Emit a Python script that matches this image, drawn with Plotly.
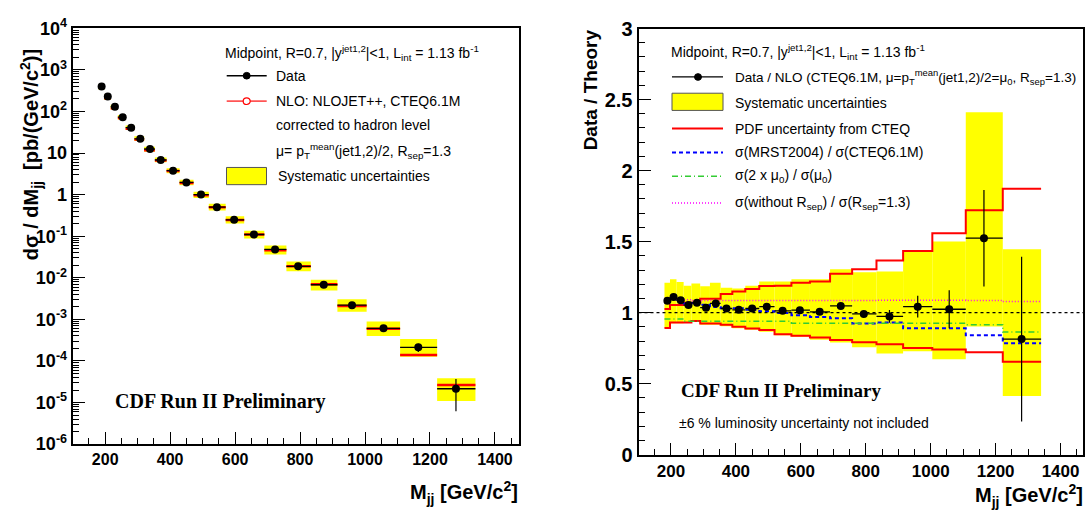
import plotly.graph_objects as go

# ---------------- data ----------------
edges = [180, 197, 217, 239, 263, 290, 320, 353, 389, 429, 472, 519, 571, 628,
         690, 758, 833, 915, 1005, 1108, 1222, 1340]
mjj = [189, 208, 230, 254, 280, 308, 338, 371, 409, 450, 495, 544, 597, 658,
       723, 794, 873, 960, 1057, 1164, 1280]
xsec = [400, 229, 130, 72.8, 40.7, 22.0, 12.5, 6.8, 3.76, 1.96, 1.00, 0.50,
        0.248, 0.110, 0.048, 0.0189, 0.0068, 0.0022, 6.1e-4, 2.13e-4, 2.15e-5]
ratio = [1.083, 1.110, 1.087, 1.053, 1.069, 1.035, 1.065, 1.029, 1.020, 1.029,
         1.042, 1.013, 1.017, 1.006, 1.047, 0.991, 0.973, 1.042, 1.024, 1.524, 0.814]
stat = [0.006, 0.006, 0.006, 0.006, 0.006, 0.007, 0.007, 0.008, 0.009, 0.010,
        0.011, 0.012, 0.013, 0.015, 0.018, 0.022, 0.045, 0.076, 0.134, 0.340, 0.580]
sys_hi = [1.21, 1.235, 1.215, 1.19, 1.205, 1.185, 1.21, 1.175, 1.17, 1.19, 1.22,
          1.22, 1.235, 1.235, 1.305, 1.285, 1.29, 1.44, 1.50, 2.41, 1.446]
sys_lo = [0.895, 0.925, 0.925, 0.93, 0.935, 0.915, 0.915, 0.905, 0.89, 0.88, 0.865,
          0.84, 0.83, 0.81, 0.79, 0.757, 0.713, 0.728, 0.672, 0.903, 0.414]
pdf_hi = [1.026, 1.053, 1.053, 1.069, 1.069, 1.098, 1.098, 1.132, 1.148, 1.166,
          1.188, 1.19, 1.21, 1.22, 1.273, 1.306, 1.367, 1.434, 1.558, 1.721, 1.872]
pdf_lo = [0.892, 0.930, 0.930, 0.930, 0.941, 0.923, 0.923, 0.914, 0.900, 0.889,
          0.878, 0.847, 0.838, 0.825, 0.807, 0.791, 0.778, 0.751, 0.740, 0.722, 0.654]
mrst = [1.07, 1.10, 1.09, 1.065, 1.07, 1.055, 1.04, 1.03, 1.03, 1.02, 1.01, 0.998,
        0.982, 0.969, 0.96, 0.923, 0.93, 0.89, 0.89, 0.84, 0.785]
scale2 = [0.955, 0.955, 0.955, 0.94, 0.94, 0.94, 0.94, 0.94, 0.94, 0.94, 0.94,
          0.94, 0.925, 0.925, 0.925, 0.925, 0.925, 0.925, 0.925, 0.915, 0.863]
norsep = [1.10, 1.10, 1.095, 1.09, 1.085, 1.085, 1.085, 1.085, 1.085, 1.085, 1.085,
          1.085, 1.085, 1.085, 1.085, 1.085, 1.087, 1.087, 1.087, 1.085, 1.078]
ytick_vals = [1e-6, 1e-5, 1e-4, 1e-3, 1e-2, 1e-1, 1, 10, 1e2, 1e3, 1e4]
ytick_text = ["10<sup>-6</sup>", "10<sup>-5</sup>", "10<sup>-4</sup>", "10<sup>-3</sup>",
              "10<sup>-2</sup>", "10<sup>-1</sup>", "1", "10", "10<sup>2</sup>",
              "10<sup>3</sup>", "10<sup>4</sup>"]

W, H = 1088, 517
lo_e = edges[:-1]
hi_e = edges[1:]
ex_minus = [m - a for m, a in zip(mjj, lo_e)]
ex_plus = [b - m for m, b in zip(mjj, hi_e)]
nlo = [x / r for x, r in zip(xsec, ratio)]
xsec_err = [x * s / r for x, s, r in zip(xsec, stat, ratio)]
box_hi = [x * h / r for x, h, r in zip(xsec, sys_hi, ratio)]
box_lo = [x * l / r for x, l, r in zip(xsec, sys_lo, ratio)]

fig = go.Figure()

# ---------------- left panel ----------------
bx, by = [], []
for a, b, l, h in zip(lo_e, hi_e, box_lo, box_hi):
    bx += [a, b, b, a, a, None]
    by += [l, l, h, h, l, None]
fig.add_trace(go.Scatter(x=bx, y=by, fill="toself", fillcolor="#FFFF00",
                         line=dict(width=0, color="#FFFF00"), mode="lines",
                         hoverinfo="skip", xaxis="x", yaxis="y"))
fig.add_trace(go.Scatter(x=mjj, y=nlo, mode="markers",
                         marker=dict(size=1, color="rgba(0,0,0,0)"),
                         error_x=dict(type="data", array=ex_plus, arrayminus=ex_minus,
                                      color="#FF0000", thickness=2.5, width=0),
                         xaxis="x", yaxis="y"))
fig.add_trace(go.Scatter(x=mjj, y=xsec, mode="markers",
                         marker=dict(size=8, color="black"),
                         error_x=dict(type="data", array=ex_plus, arrayminus=ex_minus,
                                      color="black", thickness=1.3, width=0),
                         error_y=dict(type="data", array=xsec_err, color="black",
                                      thickness=1.2, width=0),
                         xaxis="x", yaxis="y"))
fig.add_trace(go.Scatter(x=mjj, y=nlo, mode="markers",
                         marker=dict(size=9, color="rgba(0,0,0,0)", symbol="circle-open",
                                     line=dict(color="#FF0000", width=1.4)),
                         xaxis="x", yaxis="y"))

# ---------------- right panel ----------------
widths = [b - a for a, b in zip(lo_e, hi_e)]
centers = [(a + b) / 2 for a, b in zip(lo_e, hi_e)]
fig.add_trace(go.Bar(x=centers, y=[h - l for h, l in zip(sys_hi, sys_lo)], base=sys_lo,
                     width=widths, marker=dict(color="#FFFF00", line=dict(width=0)),
                     xaxis="x2", yaxis="y2", hoverinfo="skip"))


def step(vals, color, width, dash):
    fig.add_trace(go.Scatter(x=edges, y=vals + [vals[-1]], mode="lines",
                             line=dict(shape="hv", color=color, width=width, dash=dash),
                             xaxis="x2", yaxis="y2"))


step(pdf_hi, "#FF0000", 2, "solid")
step(pdf_lo, "#FF0000", 2, "solid")
step(mrst, "#0000FF", 2, "4px,3px")
step(scale2, "#33CC33", 1.5, "6px,3px,1px,3px")
step(norsep, "#FF00FF", 1.5, "1px,2px")

fig.add_trace(go.Scatter(x=mjj, y=ratio, mode="markers",
                         marker=dict(size=8, color="black"),
                         error_x=dict(type="data", array=ex_plus, arrayminus=ex_minus,
                                      color="black", thickness=1.3, width=0),
                         error_y=dict(type="data", array=stat, color="black",
                                      thickness=1.2, width=0),
                         xaxis="x2", yaxis="y2"))

# ---------------- layout ----------------
def px(x):
    return x / W


def py(y):
    return 1 - y / H


tick_common = dict(showgrid=False, zeroline=False, showline=True, mirror=True,
                   linecolor="black", linewidth=2, ticks="inside", ticklen=12,
                   tickwidth=1.3, tickcolor="black")

fig.update_layout(
    width=W, height=H, margin=dict(l=0, r=0, t=0, b=0),
    paper_bgcolor="white", plot_bgcolor="white", showlegend=False,
    barmode="overlay",
    xaxis=dict(domain=[px(72.7), px(519.3)], range=[100, 1475], anchor="y",
               dtick=200, tick0=0,
               minor=dict(dtick=50, ticks="inside", ticklen=6, tickcolor="black", tickwidth=1),
               tickfont=dict(family="Liberation Sans", size=16, color="black", weight="bold"),
               **tick_common),
    yaxis=dict(domain=[py(452.3), py(17)], type="log", range=[-6, 4], anchor="x",
               tickvals=ytick_vals, ticktext=ytick_text,
               minor=dict(dtick="D1", ticks="inside", ticklen=6, tickcolor="black", tickwidth=1),
               tickfont=dict(family="Liberation Sans", size=18, color="black", weight="bold"),
               **tick_common),
    xaxis2=dict(domain=[px(638.5), px(1083.3)], range=[100, 1470], anchor="y2",
                dtick=200, tick0=0,
                minor=dict(dtick=50, ticks="inside", ticklen=6, tickcolor="black", tickwidth=1),
                tickfont=dict(family="Liberation Sans", size=17, color="black", weight="bold"),
                **tick_common),
    yaxis2=dict(domain=[py(463.3), py(17.3)], range=[0, 3], anchor="x2",
                dtick=0.5, tick0=0,
                minor=dict(dtick=0.1, ticks="inside", ticklen=6, tickcolor="black", tickwidth=1),
                tickfont=dict(family="Liberation Sans", size=20, color="black", weight="bold"),
                **tick_common),
)

shapes = []
annos = []


def text(x, y, s, size=14, anchor="left", family="Liberation Sans", bold=False, angle=0):
    annos.append(dict(x=px(x), y=py(y), xref="paper", yref="paper", text=s,
                      showarrow=False, xanchor=anchor, yanchor="middle", textangle=angle,
                      font=dict(family=family, size=size, color="black",
                                weight="bold" if bold else "normal")))


def hline(x0, x1, y, color, width=1.3, dash="solid"):
    shapes.append(dict(type="line", xref="paper", yref="paper", x0=px(x0), x1=px(x1),
                       y0=py(y), y1=py(y), line=dict(color=color, width=width, dash=dash)))


def rect(x0, x1, y0, y1):
    shapes.append(dict(type="rect", xref="paper", yref="paper", x0=px(x0), x1=px(x1),
                       y0=py(y1), y1=py(y0), fillcolor="#FFFF00",
                       line=dict(color="#555555", width=1)))


def dot(x, y, open_red=False):
    r = 3.5
    if open_red:
        shapes.append(dict(type="circle", xref="paper", yref="paper", x0=px(x - r), x1=px(x + r),
                           y0=py(y + r), y1=py(y - r), fillcolor="white",
                           line=dict(color="#FF0000", width=1.2)))
    else:
        shapes.append(dict(type="circle", xref="paper", yref="paper", x0=px(x - r), x1=px(x + r),
                           y0=py(y + r), y1=py(y - r), fillcolor="black",
                           line=dict(color="black", width=1)))


# dotted line at ratio 1
shapes.append(dict(type="line", xref="x2 domain", yref="y2", x0=0, x1=1, y0=1, y1=1,
                   line=dict(color="black", width=1.2, dash="dot"), layer="above"))

# left legend
text(223, 43, "Midpoint, R=0.7, |y<sup>jet1,2</sup>|<1, L<sub>int</sub> = 1.13 fb<sup>-1</sup>")
hline(226.7, 266.7, 66.7, "black")
dot(246.7, 66.7)
text(274, 66.7, "Data")
hline(226.7, 266.7, 93.3, "#FF5555", 1.6)
dot(246.7, 93.3, open_red=True)
text(274, 93.3, "NLO: NLOJET++, CTEQ6.1M")
text(274, 118.3, "corrected to hadron level")
text(274, 145, "μ= p<sub>T</sub><sup>mean</sup>(jet1,2)/2, R<sub>sep</sub>=1.3")
rect(226.5, 266.5, 162.7, 180.7)
text(275.7, 171.7, "Systematic uncertainties")
text(220.5, 408, "CDF Run II Preliminary", size=20, anchor="center",
     family="Liberation Serif", bold=True)

# right legend
text(669, 42, "Midpoint, R=0.7, |y<sup>jet1,2</sup>|<1, L<sub>int</sub> = 1.13 fb<sup>-1</sup>")
hline(672, 723, 68, "black")
dot(698, 68)
text(733, 68, "Data / NLO (CTEQ6.1M, μ=p<sub>T</sub><sup>mean</sup>(jet1,2)/2=μ<sub>0</sub>, R<sub>sep</sub>=1.3)",
     size=13.5)
rect(672, 723, 85, 103)
text(733, 95, "Systematic uncertainties")
hline(672, 723, 122, "#FF0000", 2)
text(733, 122, "PDF uncertainty from CTEQ")
hline(672, 723, 147, "#0000FF", 2, "4px,3px")
text(733, 147, "σ(MRST2004) / σ(CTEQ6.1M)")
hline(672, 723, 172, "#33CC33", 1.5, "6px,3px,1px,3px")
text(733, 172, "σ(2 x μ<sub>0</sub>) / σ(μ<sub>0</sub>)")
hline(672, 723, 200, "#FF00FF", 1.5, "1px,2px")
text(733, 200, "σ(without R<sub>sep</sub>) / σ(R<sub>sep</sub>=1.3)")
text(781.5, 396, "CDF Run II Preliminary", size=19, anchor="center",
     family="Liberation Serif", bold=True)
text(677, 430, "±6 % luminosity uncertainty not included")

# axis titles
text(31, 150, "dσ / dM<sub>jj</sub>  [pb/(GeV/c<sup>2</sup>)]", size=20, anchor="center",
     bold=True, angle=-90)
text(520, 503, "M<sub>jj</sub> [GeV/c<sup>2</sup>]", size=20, anchor="right", bold=True)
text(590, 82, "Data / Theory", size=19, anchor="center", bold=True, angle=-90)
text(1085, 506, "M<sub>jj</sub> [GeV/c<sup>2</sup>]", size=20, anchor="right", bold=True)

fig.update_layout(shapes=shapes, annotations=annos)
fig.write_html("out.html", config={"displayModeBar": False},
               post_script="document.body.style.margin='0';document.body.style.padding='0';"
                           "document.body.style.overflow='hidden';")
